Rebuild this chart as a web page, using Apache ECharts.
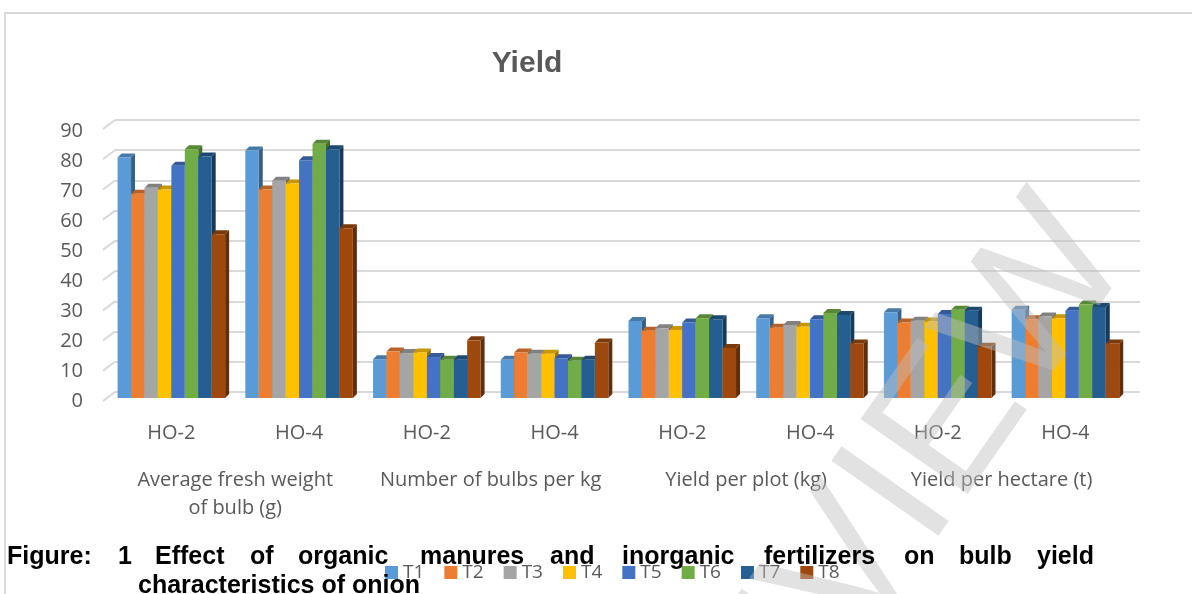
<!DOCTYPE html>
<html>
<head>
<meta charset="utf-8">
<script src="https://cdn.jsdelivr.net/npm/echarts@6/dist/echarts.min.js"></script>
<style>
  html, body { margin: 0; padding: 0; background: #fff; }
  #chart { width: 1192px; height: 594px; }
</style>
</head>
<body>
<div id="chart"></div>
<script>
// Yield - 3D clustered columns, T1..T8 by variety and trait
var categories = ['HO-2', 'HO-4', 'HO-2', 'HO-4', 'HO-2', 'HO-4', 'HO-2', 'HO-4'];
var groups = ['Average fresh weight\nof bulb (g)', 'Number of bulbs per kg', 'Yield per plot (kg)', 'Yield per hectare (t)'];
var treatments = ['T1', 'T2', 'T3', 'T4', 'T5', 'T6', 'T7', 'T8'];
var yTicks = [0, 10, 20, 30, 40, 50, 60, 70, 80, 90];

var t1 = [79.3, 81.6, 12.8, 12.6, 25.4, 26.3, 28.3, 29.1];
var t2 = [67.3, 68.7, 15.3, 15.0, 22.2, 23.2, 24.9, 26.0];
var t3 = [69.3, 71.6, 14.8, 14.6, 23.0, 24.1, 25.5, 26.9];
var t4 = [68.7, 70.7, 15.0, 14.6, 22.4, 23.5, 25.2, 26.3];
var t5 = [76.6, 78.4, 13.5, 13.1, 24.9, 26.0, 27.7, 28.8];
var t6 = [82.0, 83.8, 12.6, 12.3, 26.3, 28.0, 29.1, 30.8];
var t7 = [79.6, 82.0, 12.8, 12.6, 26.0, 27.4, 28.8, 30.0];
var t8 = [54.0, 56.0, 19.0, 18.3, 16.5, 18.0, 16.9, 18.0];

var seriesValues = [t1, t2, t3, t4, t5, t6, t7, t8];
var colors = ['#5B9BD5', '#ED7D31', '#A5A5A5', '#FFC000', '#4472C4', '#70AD47', '#255E91', '#9E480E'];

var captionLine1 = ['Figure:', '1', 'Effect', 'of', 'organic', 'manures', 'and', 'inorganic', 'fertilizers', 'on', 'bulb', 'yield'];
var captionX = [7, 118, 155, 250, 298, 420, 550, 622, 764, 904, 959, 1037];
var captionLine2 = 'characteristics of onion';

var gray = '#595959';
var rule = '#d9d9d9';
var font = '"Open Sans", "Liberation Sans", sans-serif';

function shade(hex, f) {
  var n = parseInt(hex.slice(1), 16);
  var r = Math.round(((n >> 16) & 255) * f), g = Math.round(((n >> 8) & 255) * f), b = Math.round((n & 255) * f);
  return 'rgb(' + r + ',' + g + ',' + b + ')';
}

var GROUP = 0.842; // share of the band used by the 8 columns
var DX = 4, DY = 4; // depth of the fake 3d

function barRenderer(k) {
  var c = colors[k];
  return function (params, api) {
    var cat = api.value(0), val = api.value(1);
    var base = api.coord([cat, 0]);
    var top = api.coord([cat, val]);
    var band = api.size([1, 0])[0];
    var bw = band * GROUP / treatments.length;
    var x0 = base[0] - band * GROUP / 2 + k * bw;
    var x1 = x0 + bw;
    return {
      type: 'group',
      children: [
        { type: 'polygon', shape: { points: [[x1, top[1]], [x1 + DX, top[1] - DY], [x1 + DX, base[1] - DY], [x1, base[1]]] }, style: { fill: shade(c, 0.62) } },
        { type: 'polygon', shape: { points: [[x0, top[1]], [x0 + DX, top[1] - DY], [x1 + DX, top[1] - DY], [x1, top[1]]] }, style: { fill: shade(c, 0.78) } },
        { type: 'rect', shape: { x: x0, y: top[1], width: bw, height: base[1] - top[1] }, style: { fill: c } }
      ]
    };
  };
}

var chart = echarts.init(document.getElementById('chart'), null, { renderer: 'canvas' });

var series = seriesValues.map(function (vals, k) {
  return {
    name: treatments[k],
    type: 'custom',
    xAxisIndex: 0,
    yAxisIndex: 0,
    itemStyle: { color: colors[k] },
    renderItem: barRenderer(k),
    encode: { x: 0, y: 1 },
    data: vals.map(function (v, i) { return [i, v]; }),
    z: 3
  };
});

// slanted tick connectors on the back wall
series.push({
  type: 'custom',
  xAxisIndex: 2,
  yAxisIndex: 1,
  silent: true,
  renderItem: function (params, api) {
    var cs = params.coordSys;
    var p = api.coord([0, api.value(1)]);
    return { type: 'line', shape: { x1: cs.x - 12, y1: p[1] + 9, x2: cs.x, y2: p[1] }, style: { stroke: rule, lineWidth: 2 } };
  },
  data: yTicks.map(function (v) { return [0, v]; }),
  z: 1
});

var caption = captionLine1.map(function (w, i) {
  return { type: 'text', left: captionX[i], top: 545, z: 100, style: { text: w, font: 'bold 25px "Liberation Sans", Arial, sans-serif', fill: '#000' } };
});
caption.push({ type: 'text', left: 138, top: 574, z: 100, style: { text: captionLine2, font: 'bold 25px "Liberation Sans", Arial, sans-serif', fill: '#000' } });

chart.setOption({
  animation: false,
  backgroundColor: '#fff',
  title: {
    text: 'Yield', left: 522, top: 44, textAlign: 'center',
    textStyle: { fontFamily: '"Liberation Sans", Arial, sans-serif', fontWeight: 'bold', fontSize: 30, color: gray }
  },
  legend: {
    data: treatments, left: 380, top: 558, itemWidth: 13, itemHeight: 13, itemGap: 20, icon: 'rect',
    textStyle: { fontFamily: font, fontSize: 19, color: gray }
  },
  grid: [
    { left: 107.5, right: 62.7, top: 125, height: 273 },   // columns
    { left: 115, right: 52, top: 120, height: 272 },       // back wall
    { left: 107, right: 62.7, top: 131, height: 270 }      // value labels
  ],
  xAxis: [
    { type: 'category', gridIndex: 0, data: categories, axisLine: { show: false }, axisTick: { show: false },
      axisLabel: { margin: 25, fontFamily: font, fontSize: 20, color: gray } },
    { type: 'category', gridIndex: 0, data: groups, position: 'bottom', axisLine: { show: false }, axisTick: { show: false },
      axisLabel: { interval: 0, margin: 68, lineHeight: 28, fontFamily: font, fontSize: 20, color: gray } },
    { type: 'category', gridIndex: 1, data: categories, show: false },
    { type: 'category', gridIndex: 2, data: categories, show: false }
  ],
  yAxis: [
    { type: 'value', gridIndex: 0, min: 0, max: 90, interval: 10, show: false },
    { type: 'value', gridIndex: 1, min: 0, max: 90, interval: 10, axisLabel: { show: false }, axisLine: { show: false }, axisTick: { show: false },
      splitLine: { lineStyle: { color: rule, width: 2 } } },
    { type: 'value', gridIndex: 2, min: 0, max: 90, interval: 10, axisLine: { show: false }, axisTick: { show: false }, splitLine: { show: false },
      axisLabel: { margin: 24, fontFamily: font, fontSize: 20, color: gray } }
  ],
  series: series,
  graphic: [
    { type: 'rect', shape: { x: 5, y: 13, width: 1300, height: 700 }, style: { fill: null, stroke: rule, lineWidth: 2 }, z: -10, silent: true },
    { type: 'text', x: 840, y: 585, rotation: 55 * Math.PI / 180, z: 50, silent: true,
      style: { text: 'PREVIEW', font: '190px "Liberation Sans", Arial, sans-serif', fill: 'rgba(190,190,190,0.45)', align: 'center', verticalAlign: 'middle' } }
  ].concat(caption)
});
</script>
</body>
</html>
